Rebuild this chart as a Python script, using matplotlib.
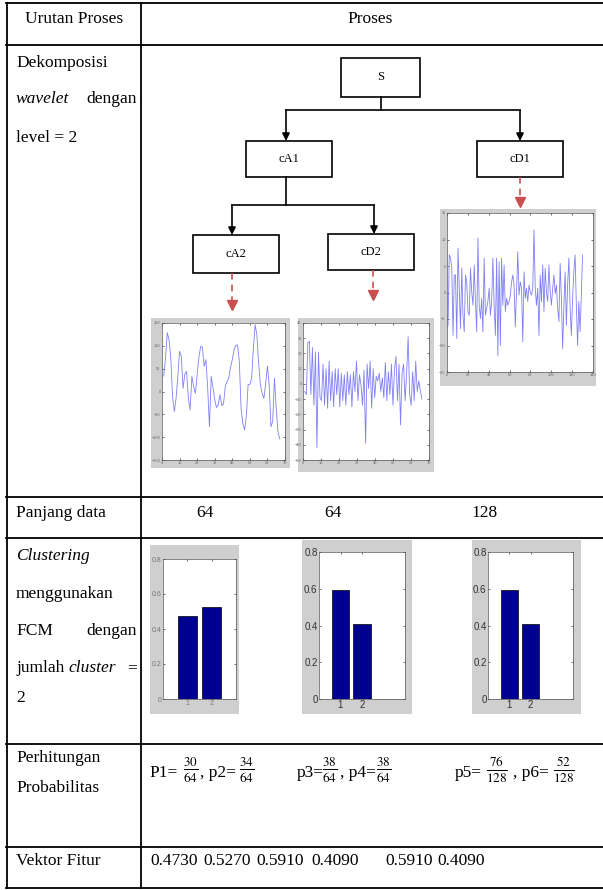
"""
Wavelet decomposition + FCM clustering table (reproduction).
Outputs: out.png
"""

import numpy as np
import matplotlib

matplotlib.use("Agg")
import matplotlib.pyplot as plt
from matplotlib.patches import Rectangle

# ---- data ----
HEADERS = ["Urutan Proses", "Proses"]
TREE_NODES = ["S", "cA1", "cD1", "cA2", "cD2"]
LENGTHS = ["64", "64", "128"]
FEATURES = [0.4730, 0.5270, 0.5910, 0.4090, 0.5910, 0.4090]
PROB_NAMES = ["P1=", ", p2=", "p3=", ", p4=", "p5=", ", p6="]
NUMERATORS = [30, 34, 38, 38, 76, 52]
DENOMINATORS = [64, 64, 64, 64, 128, 128]
CLUSTERS = [1, 2]
BAR_TICKS = [0, 0.2, 0.4, 0.6, 0.8]
BAR_TICK_LABELS = ["0", "0.2", "0.4", "0.6", "0.8"]

cA2 = [34, 73, 129, 113, 73, -11, -44, -15, 33, 88, 77, 7, 38, 44, -15, -40, 33, 11, -4, 37,
       75, 99, 97, 55, 70, 7, -77, 33, 9, -18, -35, -29, -7, -31, -28, 11, 22, 29, 53, 70,
       91, 101, 102, 66, -37, -70, -84, -55, 15, 15, 29, 95, 146, 124, 62, 14, -4, -15, 18, 56,
       15, -77, -66, 29, -37, -88, -104]
cD2 = [-5, -7, 27, 28, -7, 24, -14, 21, -42, 21, -9, -11, 13, -14, 10, -16, 15, -11, 8, -15,
       10, -7, 10, -15, 7, -11, 6, -14, 8, -7, 6, -15, 8, -5, 15, -11, 6, -1, -14, 9,
       -39, 13, -3, 15, -16, 10, -9, 5, 2, 7, -5, 4, -9, 14, -11, 8, -7, 13, -14, 9,
       18, -11, 13, -27, 7, 13, -11, 6, 31, -7, -14, 8, -11, 15, -5, 2, -4, -10]
cD1 = [-6.2, 7.1, 6.5, 4.6, -8.1, 3.3, 3.3, -8.7, 8.4, 0.8, -6.8, 4.6, -4.3, -7.4, 3.3, 2.0,
       -3.6, -4.3, 4.6, 0.1, -2.4, 5.2, -1.7, -7.4, 10.3, -2.4, -4.9, -1.1, -7.4, 6.5, -4.3,
       -3.0, -1.7, 0.8, -4.3, -1.7, 6.5, -2.4, -8.1, 6.5, -11.9, 5.8, -10.0, 6.5, -2.4, 5.2,
       -3.6, -1.1, -2.4, -1.7, -0.5, 2.0, 3.3, 1.4, -6.5, 0.1, 7.7, -0.5, 2.0, 0.8, -9.3, 3.9,
       -1.1, 0.8, -1.7, 1.4, 0.1, -0.5, 0.8, 11.8, 0.8, -2.4, 0.8, -8.1, 3.3, -1.7, 5.2, -3.6,
       4.6, 0.1, -1.7, 5.2, 0.1, -2.4, 0.8, 3.3, -0.2, 1.4, -3.0, -5.5, 5.5, -1.1, -10.6,
       -2.4, 3.9, -6.2, 1.4, 6.5, -3.0, -8.1, -1.1, 3.9, 7.1, -2.4, -10.0, -1.7, -7.4, -0.5, 7.1]

W, H = 603, 890
FS = 12.5
FRAME_GRAY = "#cfcfcf"
SIGNAL_BLUE = "#7f7ff7"
BAR_NAVY = "#000090"
RED = "#c8504f"

plt.rcParams["font.family"] = ["Liberation Serif", "DejaVu Serif"]
plt.rcParams["mathtext.fontset"] = "stix"

fig = plt.figure(figsize=(W / 100, H / 100), dpi=100)
ax = fig.add_axes([0, 0, 1, 1])
ax.set_xlim(0, W)
ax.set_ylim(H, 0)
ax.axis("off")


def inset(x0, y0, x1, y1):
    return fig.add_axes([x0 / W, 1 - y1 / H, (x1 - x0) / W, (y1 - y0) / H])


def matlab_style(a, labelsize, labelcolor):
    a.tick_params(direction="in", top=True, right=True, length=1.5, width=0.4,
                  labelsize=labelsize, pad=1, labelcolor=labelcolor)
    for lbl in a.get_xticklabels() + a.get_yticklabels():
        lbl.set_family("Liberation Sans")
    for s in a.spines.values():
        s.set_linewidth(0.5)
        s.set_color("#555555")


# ---- table grid ----
LW = 1.3
for y in [3, 45, 497, 538, 744, 847, 888]:
    ax.plot([6, W], [y, y], color="black", lw=LW)
for x in [7, 141]:
    ax.plot([x, x], [3, 888], color="black", lw=LW)

ax.text(74, 19, HEADERS[0], ha="center", va="center", fontsize=FS)
ax.text(370, 19, HEADERS[1], ha="center", va="center", fontsize=FS)

# left column
LX, RX = 16, 137
ax.text(LX, 63, "Dekomposisi", va="center", fontsize=FS)
ax.text(LX, 99, "wavelet", va="center", fontsize=FS, style="italic")
ax.text(RX, 99, "dengan", va="center", ha="right", fontsize=FS)
ax.text(LX, 138, "level = 2", va="center", fontsize=FS)
ax.text(LX, 513, "Panjang data", va="center", fontsize=FS)
ax.text(LX, 556, "Clustering", va="center", fontsize=FS, style="italic")
ax.text(LX, 594, "menggunakan", va="center", fontsize=FS)
ax.text(LX, 631, "FCM", va="center", fontsize=FS)
ax.text(RX, 631, "dengan", va="center", ha="right", fontsize=FS)
ax.text(LX, 668, "jumlah", va="center", fontsize=FS)
ax.text(68, 668, "cluster", va="center", fontsize=FS, style="italic")
ax.text(RX, 668, "=", va="center", ha="right", fontsize=FS)
ax.text(LX, 698, "2", va="center", fontsize=FS)
ax.text(LX, 758, "Perhitungan", va="center", fontsize=FS)
ax.text(LX, 788, "Probabilitas", va="center", fontsize=FS)
ax.text(LX, 861, "Vektor Fitur", va="center", fontsize=FS)

# ---- decomposition tree ----
boxes = {
    "S": (341, 58, 420, 97),
    "cA1": (246, 141, 332, 177),
    "cD1": (477, 141, 563, 177),
    "cA2": (193, 235, 279, 273),
    "cD2": (328, 234, 414, 270),
}
for name in TREE_NODES:
    x0, y0, x1, y1 = boxes[name]
    ax.add_patch(Rectangle((x0, y0), x1 - x0, y1 - y0, fc="white", ec="black", lw=1.2))
    ax.text((x0 + x1) / 2, (y0 + y1) / 2, name, ha="center", va="center", fontsize=9)

arrow_kw = dict(arrowstyle="-|>", color="black", lw=1.2, mutation_scale=11,
                shrinkA=0, shrinkB=0)
ax.plot([381, 381], [97, 110], color="black", lw=1.2)
ax.plot([286, 520], [110, 110], color="black", lw=1.2)
ax.annotate("", xy=(286, 141), xytext=(286, 110), arrowprops=arrow_kw)
ax.annotate("", xy=(520, 141), xytext=(520, 110), arrowprops=arrow_kw)
ax.plot([286, 286], [177, 205], color="black", lw=1.2)
ax.plot([232, 374], [205, 205], color="black", lw=1.2)
ax.annotate("", xy=(232, 235), xytext=(232, 205), arrowprops=arrow_kw)
ax.annotate("", xy=(374, 234), xytext=(374, 205), arrowprops=arrow_kw)

# red dashed pointers to the plots
for x, y0, y1 in [(232, 273, 305), (373, 270, 295), (520, 177, 202)]:
    ax.plot([x, x], [y0, y1 - 4], color=RED, lw=1.2, dashes=(4, 3))
    ax.plot(x, y1, marker="v", ms=6.5, color=RED, mec=RED)


# ---- coefficient plots ----
def signal_panel(frame, box, values, x_last, xmax, xstep, ylim, ystep):
    fx0, fy0, fx1, fy1 = frame
    ax.add_patch(Rectangle((fx0, fy0), fx1 - fx0, fy1 - fy0, fc=FRAME_GRAY, ec="none"))
    a = inset(*box)
    x = np.linspace(1, x_last, len(values))
    a.plot(x, values, color=SIGNAL_BLUE, lw=0.6)
    a.set_xlim(0, xmax)
    a.set_ylim(*ylim)
    a.set_xticks(np.arange(0, xmax + 1, xstep))
    a.set_yticks(np.arange(ylim[0], ylim[1] + 1, ystep))
    matlab_style(a, 2.8, "#666666")


signal_panel((151, 318, 290, 468), (162, 323, 285, 460), cA2, 67, 70, 10, (-150, 150), 50)
signal_panel((298, 318, 434, 472), (303, 323, 429, 460), cD2, 66, 70, 10, (-50, 40), 10)
signal_panel((440, 209, 596, 386), (447, 213, 593, 372), cD1, 130, 140, 20, (-15, 15), 5)

# ---- panjang data ----
for x, txt in zip([205, 333, 485], LENGTHS):
    ax.text(x, 513, txt, ha="center", va="center", fontsize=FS)


# ---- FCM membership bars ----
def bar_panel(frame, box, vals, xmax, fs, labelcolor):
    fx0, fy0, fx1, fy1 = frame
    ax.add_patch(Rectangle((fx0, fy0), fx1 - fx0, fy1 - fy0, fc=FRAME_GRAY, ec="none"))
    a = inset(*box)
    a.bar(CLUSTERS, vals, width=0.8, color=BAR_NAVY, edgecolor="black", lw=0.5)
    a.set_xlim(0, xmax)
    a.set_ylim(0, 0.8)
    a.set_xticks(CLUSTERS)
    a.set_yticks(BAR_TICKS)
    a.set_yticklabels(BAR_TICK_LABELS)
    matlab_style(a, fs, labelcolor)


bar_panel((150, 545, 239, 714), (163, 559, 236, 699), FEATURES[0:2], 3, 5, "#777777")
bar_panel((302, 540, 412, 714), (319, 552, 405, 699), FEATURES[2:4], 4, 7, "#333333")
bar_panel((472, 540, 581, 714), (488, 552, 573, 699), FEATURES[4:6], 4, 7, "#333333")

# ---- probabilities ----
name_x = [149, 200, 297, 340, 455, 513]
frac_x = [191, 247, 330, 384, 497, 564]
for nx, fx, name, num, den in zip(name_x, frac_x, PROB_NAMES, NUMERATORS, DENOMINATORS):
    ax.text(nx, 773, name, va="center", fontsize=FS)
    ax.text(fx, 770, rf"$\frac{{{num}}}{{{den}}}$", ha="center", va="center", fontsize=FS + 1)

# ---- feature vector ----
for x, v in zip([150, 203, 256, 311, 385, 437], FEATURES):
    ax.text(x, 861, f"{v:.4f}", va="center", fontsize=FS)

fig.savefig("out.png", dpi=100)
